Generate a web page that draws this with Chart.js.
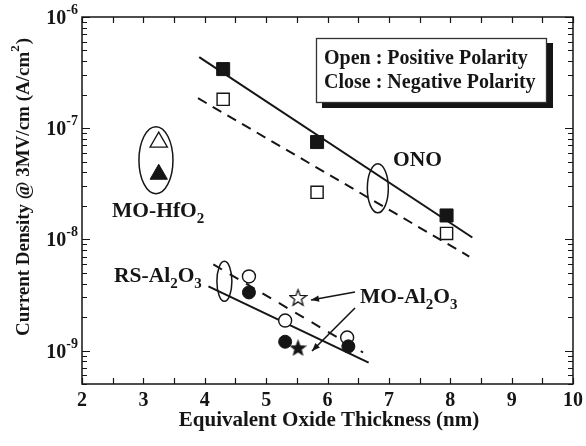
<!DOCTYPE html>
<html>
<head>
<meta charset="utf-8">
<script src="https://cdn.jsdelivr.net/npm/chart.js@4.4.1/dist/chart.umd.min.js"></script>
<style>
  html, body { margin: 0; padding: 0; background: #fff; }
  #myChart { display: block; }
</style>
</head>
<body>
<canvas id="myChart" width="586" height="446"></canvas>
<script>
// ---- data ----
var xTickLabels = [2, 3, 4, 5, 6, 7, 8, 9, 10];
var yTickExps = [-6, -7, -8, -9];

var onoX = [4.3, 5.83, 7.94];
var onoNeg = [3.4e-7, 7.5e-8, 1.64e-8];      // close
var onoPos = [1.82e-7, 2.65e-8, 1.13e-8];    // open

var rsNegX = [4.72, 5.31, 6.34];
var rsNeg = [3.33e-9, 1.2e-9, 1.09e-9];
var rsPosX = [4.72, 5.31, 6.32];
var rsPos = [4.64e-9, 1.86e-9, 1.31e-9];

var moAlX = [5.52];
var moAlPos = [3.0e-9];
var moAlNeg = [1.06e-9];

var hfX = [3.25];
var hfPos = [7.5e-8];
var hfNeg = [3.85e-8];

// fitted lines (end points)
var onoFitNegX = [3.91, 8.36];
var onoFitNeg = [4.36e-7, 1.04e-8];
var onoFitPosX = [3.89, 8.31];
var onoFitPos = [1.86e-7, 7.0e-9];
var rsFitNegX = [4.06, 6.67];
var rsFitNeg = [3.77e-9, 7.8e-10];
var rsFitPosX = [4.14, 6.58];
var rsFitPos = [5.95e-9, 9.6e-10];

var INK = '#151515';
var FONT = "'Liberation Serif', 'Times New Roman', serif";

function pts(xs, ys) {
    return xs.map(function (v, i) { return { x: v, y: ys[i] }; });
}

function makeStar(fill, size) {
    var c = document.createElement('canvas');
    c.width = size; c.height = size;
    var g = c.getContext('2d');
    var cx = size / 2, cy = size / 2 + 0.8, R = size / 2 - 1, r = R * 0.42;
    g.beginPath();
    for (var i = 0; i < 10; i++) {
        var ang = -Math.PI / 2 + i * Math.PI / 5;
        var rad = i % 2 ? r : R;
        g.lineTo(cx + rad * Math.cos(ang), cy + rad * Math.sin(ang));
    }
    g.closePath();
    g.fillStyle = fill;
    g.fill();
    g.lineWidth = 1.3;
    g.strokeStyle = INK;
    g.stroke();
    return c;
}

// text with subscripts: parts = [[text, isSub], ...]
function drawRich(ctx, parts, x, y, size) {
    ctx.textAlign = 'left';
    ctx.textBaseline = 'alphabetic';
    parts.forEach(function (p) {
        var s = p[1] ? Math.round(size * 0.72) : size;
        ctx.font = 'bold ' + s + 'px ' + FONT;
        ctx.fillText(p[0], x, y + (p[1] ? size * 0.28 : 0));
        x += ctx.measureText(p[0]).width;
    });
}

function arrow(ctx, x1, y1, x2, y2) {
    ctx.beginPath();
    ctx.moveTo(x1, y1);
    ctx.lineTo(x2, y2);
    ctx.stroke();
    var a = Math.atan2(y2 - y1, x2 - x1), L = 8, W = 3.2;
    ctx.beginPath();
    ctx.moveTo(x2, y2);
    ctx.lineTo(x2 - L * Math.cos(a) + W * Math.sin(a), y2 - L * Math.sin(a) - W * Math.cos(a));
    ctx.lineTo(x2 - L * Math.cos(a) - W * Math.sin(a), y2 - L * Math.sin(a) + W * Math.cos(a));
    ctx.closePath();
    ctx.fill();
}

var decor = {
    id: 'decor',
    afterDraw: function (chart) {
        var ctx = chart.ctx, a = chart.chartArea;
        var xs = chart.scales.x, ys = chart.scales.y;
        ctx.save();
        ctx.strokeStyle = INK;
        ctx.fillStyle = INK;

        // frame
        ctx.lineWidth = 1.5;
        ctx.strokeRect(a.left, a.top, a.right - a.left, a.bottom - a.top);

        // x ticks (inward, bottom and top)
        ctx.lineWidth = 1.2;
        for (var v = 2; v <= 10.001; v += 0.5) {
            var px = Math.round(xs.getPixelForValue(v)) + 0.5;
            ctx.beginPath();
            ctx.moveTo(px, a.bottom); ctx.lineTo(px, a.bottom - 6);
            ctx.moveTo(px, a.top); ctx.lineTo(px, a.top + 6);
            ctx.stroke();
        }
        // y ticks
        for (var e = -10; e <= -6; e++) {
            for (var m = 1; m <= 9; m++) {
                var val = m * Math.pow(10, e);
                if (val < 4.99e-10 || val > 1.001e-6) continue;
                var py = Math.round(ys.getPixelForValue(val)) + 0.5;
                var len = m === 1 ? 8 : 5;
                ctx.beginPath();
                ctx.moveTo(a.left, py); ctx.lineTo(a.left + len, py);
                ctx.moveTo(a.right, py); ctx.lineTo(a.right - len, py);
                ctx.stroke();
            }
        }

        // x tick labels
        ctx.font = 'bold 20px ' + FONT;
        ctx.textAlign = 'center';
        ctx.textBaseline = 'middle';
        xTickLabels.forEach(function (t) {
            ctx.fillText(String(t), xs.getPixelForValue(t), 401);
        });
        // y tick labels 10^e
        yTickExps.forEach(function (ex) {
            var py = ys.getPixelForValue(Math.pow(10, ex));
            ctx.font = 'bold 14px ' + FONT;
            var sup = '-' + String(-ex);
            var sw = ctx.measureText(sup).width;
            ctx.textAlign = 'right';
            ctx.textBaseline = 'alphabetic';
            ctx.fillText(sup, a.left - 4, py - 3);
            ctx.font = 'bold 20px ' + FONT;
            ctx.fillText('10', a.left - 4 - sw, py + 7);
        });

        // axis titles
        ctx.font = 'bold 21px ' + FONT;
        ctx.textAlign = 'center';
        ctx.textBaseline = 'middle';
        ctx.fillText('Equivalent Oxide Thickness (nm)', 329, 421);
        ctx.save();
        ctx.translate(22, 187);
        ctx.rotate(-Math.PI / 2);
        var t0 = 'Current Density @ 3MV/cm (A/cm';
        ctx.font = 'bold 19px ' + FONT;
        var w0 = ctx.measureText(t0).width;
        ctx.font = 'bold 13px ' + FONT;
        var w1 = ctx.measureText('2').width;
        ctx.font = 'bold 19px ' + FONT;
        var w2 = ctx.measureText(')').width;
        var x0 = -(w0 + w1 + w2 + 1) / 2;
        ctx.textAlign = 'left';
        ctx.textBaseline = 'alphabetic';
        ctx.fillText(t0, x0, 7);
        ctx.font = 'bold 13px ' + FONT;
        ctx.fillText('2', x0 + w0, -3);
        ctx.font = 'bold 19px ' + FONT;
        ctx.fillText(')', x0 + w0 + w1 + 1, 7);
        ctx.restore();

        // ellipses
        ctx.lineWidth = 1.5;
        function ell(xv, yv, rx, ry) {
            ctx.beginPath();
            ctx.ellipse(xs.getPixelForValue(xv), ys.getPixelForValue(yv), rx, ry, 0, 0, Math.PI * 2);
            ctx.stroke();
        }
        ell(3.205, 5.15e-8, 17, 33.5);
        ell(6.82, 2.88e-8, 10.5, 24.5);
        ell(4.32, 4.19e-9, 7.5, 20);

        // labels
        drawRich(ctx, [['ONO', 0]], 393, 166, 21.5);
        drawRich(ctx, [['MO-HfO', 0], ['2', 1]], 112, 217, 21.5);
        drawRich(ctx, [['RS-Al', 0], ['2', 1], ['O', 0], ['3', 1]], 114, 282, 21.5);
        drawRich(ctx, [['MO-Al', 0], ['2', 1], ['O', 0], ['3', 1]], 360, 303, 21.5);

        // arrows
        ctx.lineWidth = 1.6;
        arrow(ctx, 355, 292, 311, 300);
        arrow(ctx, 355, 308, 312, 351);

        // legend box with shadow
        ctx.fillStyle = INK;
        ctx.fillRect(322, 43, 231, 65);
        ctx.fillStyle = '#fff';
        ctx.fillRect(316, 38, 231, 65);
        ctx.lineWidth = 1.3;
        ctx.strokeStyle = '#333';
        ctx.strokeRect(316.5, 38.5, 230, 64);
        ctx.fillStyle = INK;
        drawRich(ctx, [['Open : Positive Polarity', 0]], 324, 64, 20);
        drawRich(ctx, [['Close : Negative Polarity', 0]], 324, 88, 20);

        ctx.restore();
    }
};

var openSq = { pointStyle: 'rect', pointRadius: 8.6, backgroundColor: '#fff', borderColor: INK, borderWidth: 1.4 };
var closeSq = { pointStyle: 'rect', pointRadius: 9.2, backgroundColor: INK, borderColor: INK, borderWidth: 1 };
var openCi = { pointStyle: 'circle', pointRadius: 6.5, backgroundColor: '#fff', borderColor: INK, borderWidth: 1.4 };
var closeCi = { pointStyle: 'circle', pointRadius: 6.5, backgroundColor: INK, borderColor: INK, borderWidth: 1 };

function ds(label, data, style) {
    return Object.assign({ label: label, data: data, showLine: false, pointHoverRadius: 0 }, style);
}
function fit(label, xs, ys, dash) {
    return { type: 'line', label: label, data: pts(xs, ys), showLine: true, pointRadius: 0,
             borderColor: INK, borderWidth: 2, borderDash: dash, fill: false, tension: 0 };
}

var ctx = document.getElementById('myChart');
var chart = new Chart(ctx, {
    type: 'scatter',
    data: {
        datasets: [
            ds('ONO close', pts(onoX, onoNeg), closeSq),
            ds('ONO open', pts(onoX, onoPos), openSq),
            ds('RS close', pts(rsNegX, rsNeg), closeCi),
            ds('RS open', pts(rsPosX, rsPos), openCi),
            ds('MO-Al2O3 close', pts(moAlX, moAlNeg), { pointStyle: makeStar(INK, 17) }),
            ds('MO-Al2O3 open', pts(moAlX, moAlPos), { pointStyle: makeStar('#fff', 19) }),
            ds('MO-HfO2 close', pts(hfX, hfNeg), { pointStyle: 'triangle', pointRadius: 10, backgroundColor: INK, borderColor: INK, borderWidth: 1 }),
            ds('MO-HfO2 open', pts(hfX, hfPos), { pointStyle: 'triangle', pointRadius: 10, backgroundColor: '#fff', borderColor: INK, borderWidth: 1.3 }),
            fit('ONO fit close', onoFitNegX, onoFitNeg, []),
            fit('ONO fit open', onoFitPosX, onoFitPos, [10, 7]),
            fit('RS fit close', rsFitNegX, rsFitNeg, []),
            fit('RS fit open', rsFitPosX, rsFitPos, [10, 9])
        ]
    },
    options: {
        responsive: false,
        animation: false,
        events: [],
        layout: { padding: { left: 82, right: 13, top: 17, bottom: 62 } },
        scales: {
            x: { type: 'linear', min: 2, max: 10, display: false },
            y: { type: 'logarithmic', min: 5e-10, max: 1e-6, display: false }
        },
        plugins: {
            legend: { display: false },
            tooltip: { enabled: false }
        }
    },
    plugins: [decor]
});
</script>
</body>
</html>
